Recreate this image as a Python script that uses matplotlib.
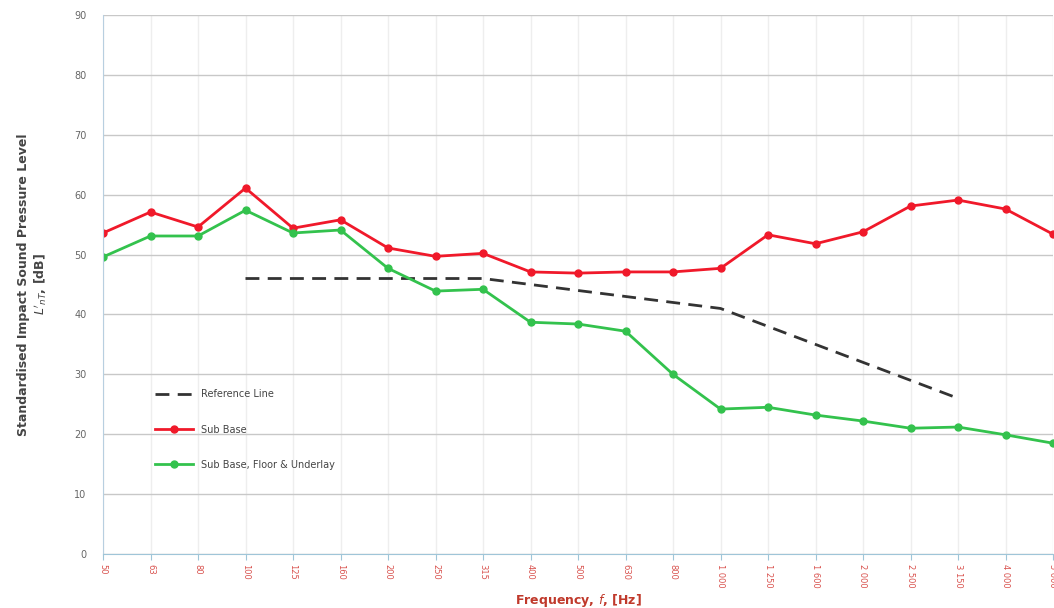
from matplotlib import pyplot as plt
import numpy as np

freqs = ['50', '63', '80', '100', '125', '160', '200', '250', '315', '400', '500',
         '630', '800', '1 000', '1 250', '1 600', '2 000', '2 500', '3 150', '4 000', '5 000']
sub_base = [53.6, 57.1, 54.6, 61.1, 54.4, 55.8, 51.1, 49.7, 50.2, 47.1, 46.9,
            47.1, 47.1, 47.7, 53.3, 51.8, 53.8, 58.1, 59.1, 57.6, 53.4]
sub_base_floor = [49.6, 53.1, 53.1, 57.4, 53.6, 54.1, 47.7, 43.9, 44.2, 38.7, 38.4,
                  37.2, 30.0, 24.2, 24.5, 23.2, 22.2, 21.0, 21.2, 19.9, 18.5]
ref_freqs = ['100', '125', '160', '200', '250', '315', '400', '500', '630', '800',
             '1 000', '1 250', '1 600', '2 000', '2 500', '3 150']
ref_line = [46, 46, 46, 46, 46, 46, 45, 44, 43, 42, 41, 38, 35, 32, 29, 26]

x = np.arange(len(freqs))
x_ref = np.array([freqs.index(f) for f in ref_freqs])

fig = plt.figure(figsize=(10.54, 6.08), dpi=100)
ax = fig.add_axes([103/1054, 54/608, 950/1054, 539/608])

ax.plot(x_ref, ref_line, color='#333333', linestyle=(0, (5, 3)), linewidth=2, label='Reference Line')
ax.plot(x, sub_base, color='#f0192a', marker='o', markersize=5, linewidth=2, label='Sub Base')
ax.plot(x, sub_base_floor, color='#33c24d', marker='o', markersize=5, linewidth=2,
        label='Sub Base, Floor & Underlay')

ax.set_xlim(0, 20)
ax.set_ylim(0, 90)
ax.set_yticks(range(0, 91, 10))
ax.set_xticks(x)
ax.set_xticklabels(freqs, rotation=270, color='#d9534f', fontsize=6)
ax.tick_params(axis='y', labelsize=7, colors='#666666', length=0, pad=12)
ax.tick_params(axis='x', length=4, color='#9fc5d8', pad=3)

ax.grid(axis='y', color='#c8c8c8', linewidth=1)
ax.grid(axis='x', color='#eeeeee', linewidth=1)
ax.set_axisbelow(True)
for s in ['top', 'right']:
    ax.spines[s].set_visible(False)
ax.spines['left'].set_color('#b8cfe0')
ax.spines['bottom'].set_color('#9fc5d8')

ax.set_xlabel('Frequency, $f$, [Hz]', color='#c0392b', fontsize=9, fontweight='bold', labelpad=3)
ax.set_ylabel("Standardised Impact Sound Pressure Level\n$L'_{nT}$, [dB]", color='#444444',
              fontsize=9, fontweight='bold', labelpad=18)

ax.legend(loc='lower left', bbox_to_anchor=(0.045, 0.14), frameon=False, fontsize=7,
          labelspacing=2.6, handlelength=4.0, labelcolor='#444444')

fig.savefig('out.png', dpi=100)
